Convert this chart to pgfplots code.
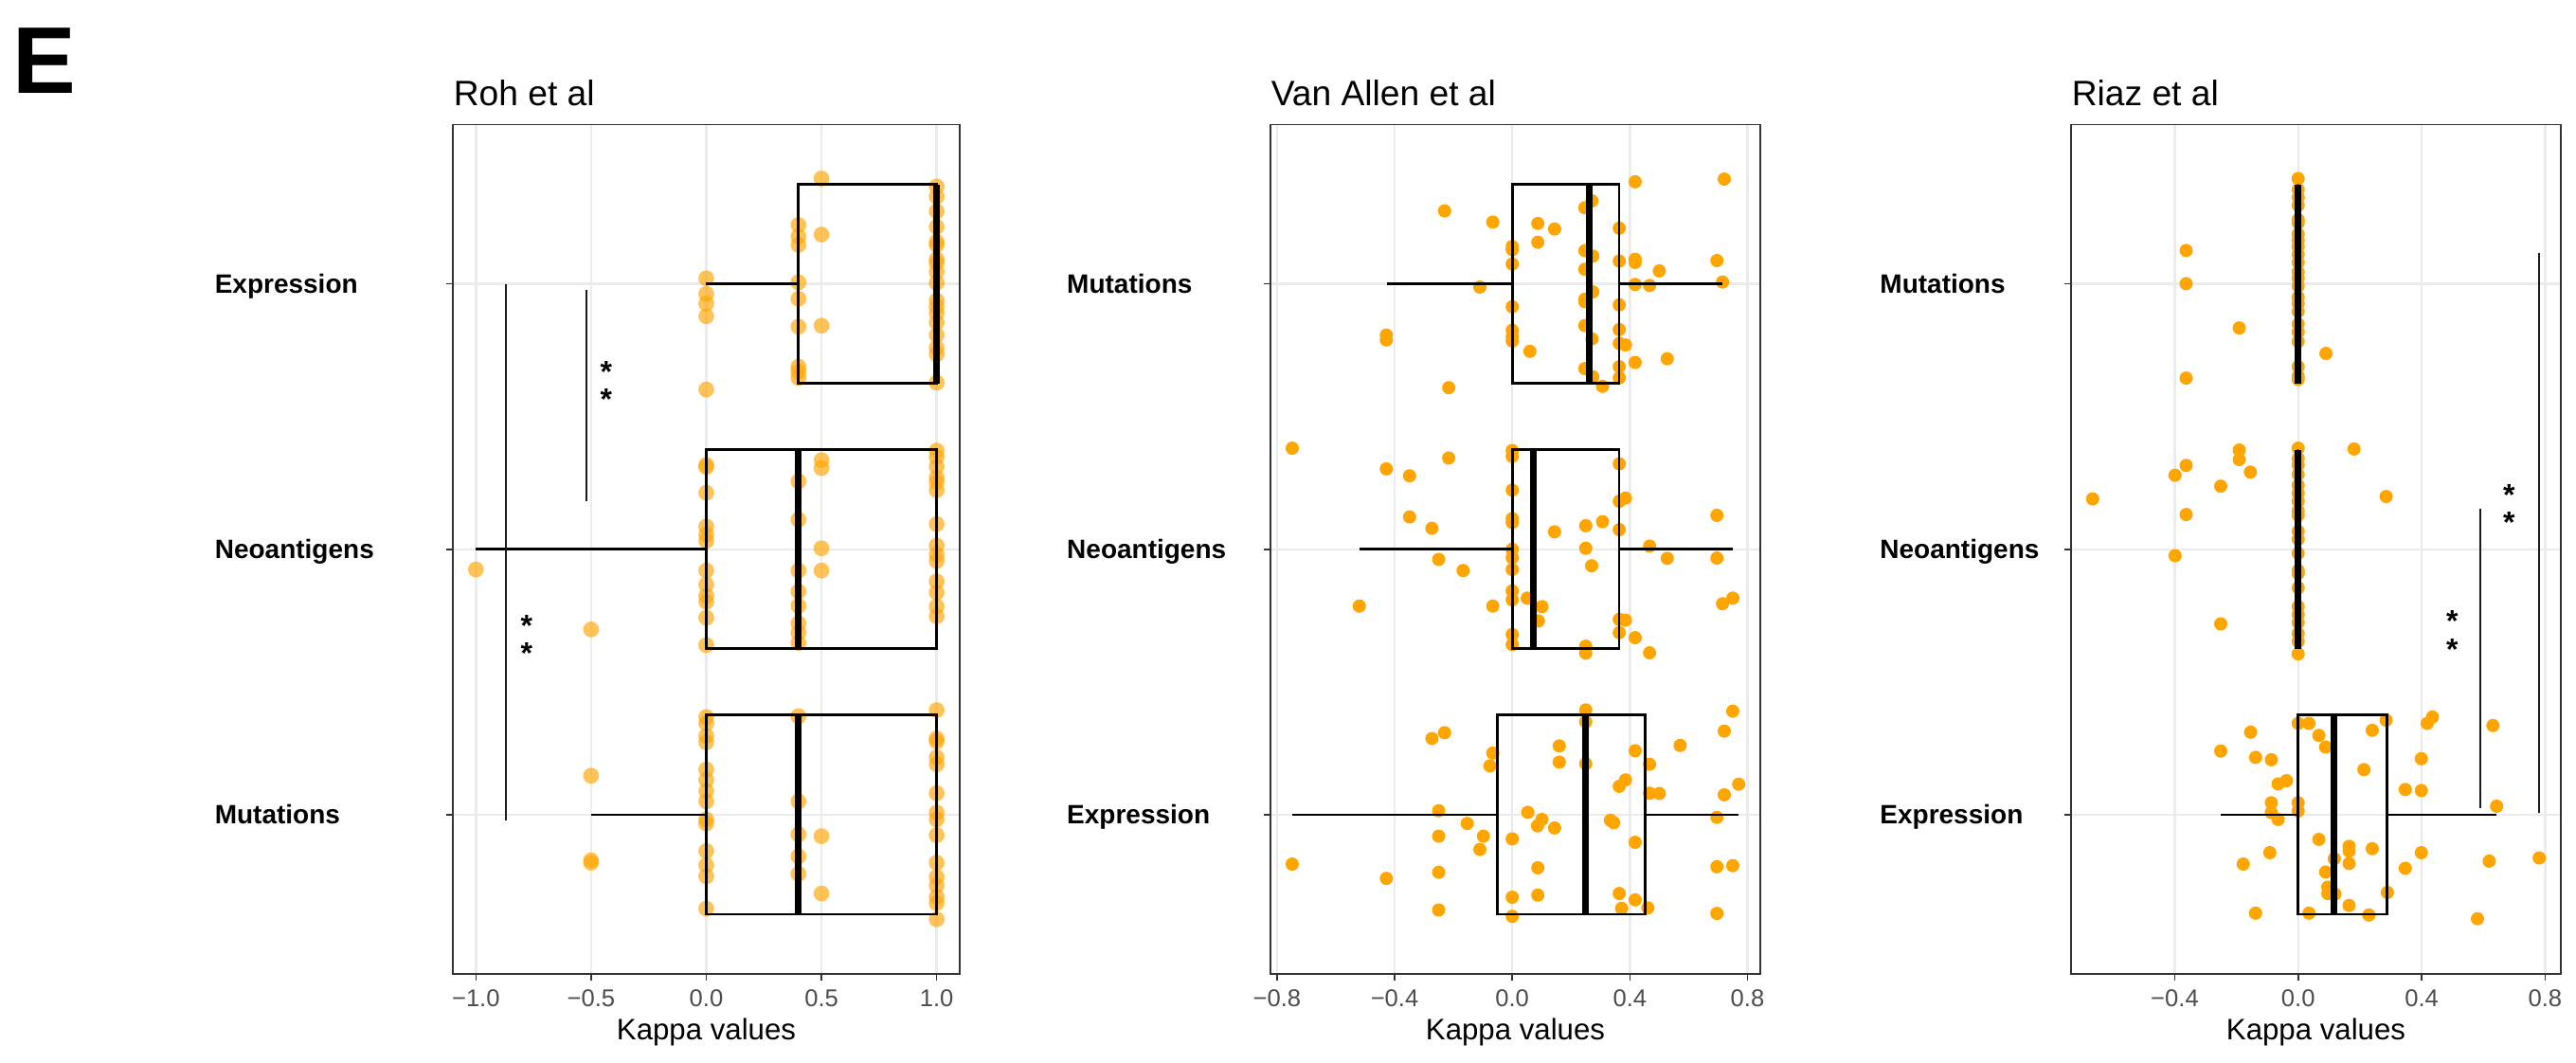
\documentclass[border=0pt]{standalone}
\usepackage{fontspec}
\setmainfont{Liberation Sans}
\usepackage{pgfplots}
\pgfplotsset{compat=1.18}
\usepgfplotslibrary{statistics}
\definecolor{ptorange}{HTML}{FFA500}
\definecolor{gridgray}{HTML}{EBEBEB}
\definecolor{framegray}{HTML}{333333}
\definecolor{ticktext}{HTML}{4D4D4D}

\pgfplotsset{
  kappapanel/.style={
    clip marker paths=true,
    scale only axis,
    anchor=north west,
    width=129.25pt, height=224.1pt,
    ymin=0.4, ymax=3.6,
    ytick={1,2,3},
    tick align=outside,
    tick pos=left,
    major tick length=1.8pt,
    tick style={framegray, line width=0.4pt},
    axis line style={framegray, line width=0.4pt},
    xmajorgrids, ymajorgrids,
    grid style={gridgray, line width=0.6pt},
    xlabel={Kappa values},
    x label style={at={(axis description cs:0.5,0)}, anchor=base, yshift=-17.5pt,
      font=\fontsize{7.8}{9}\selectfont},
    xticklabel style={font=\fontsize{6.4}{7.5}\selectfont, text=ticktext,
      anchor=north, inner sep=0pt, yshift=-2.1pt},
    yticklabel style={font=\fontsize{7}{8}\selectfont\bfseries,
      anchor=base west, inner sep=0pt, yshift=-2.5pt},
    every axis title shift=0pt,
    title style={font=\fontsize{9.3}{11}\selectfont, at={(axis description cs:0,1)},
      anchor=base west, inner sep=0pt, yshift=5pt},
    boxplot/box extend=0.75,
    boxplot/whisker extend=0,
    boxplot/every median/.style={line width=1.75pt},
  },
  roh/.style={only marks, mark=*, mark size=2.1pt,
    mark options={fill=ptorange, draw=ptorange, draw opacity=0, fill opacity=0.65}},
  solidpts/.style={only marks, mark=*, mark size=1.75pt,
    mark options={fill=ptorange, draw=ptorange, draw opacity=0}},
  boxline/.style={black, line width=0.7pt, solid},
  sigline/.style={black!90, line width=0.5pt},
}
\newcommand{\stars}[2]{%
  \node[font=\fontsize{8}{8}\selectfont\bfseries, inner sep=0pt, yshift=-1.8pt] at (axis cs:#1,#2) {*};}

\begin{document}
\begin{tikzpicture}
\path[use as bounding box] (0pt,0pt) rectangle (679.75pt,-280.5pt);
\node[anchor=base west, inner sep=0pt, font=\fontsize{25}{25}\selectfont\bfseries] at (3.2pt,-24.75pt) {E};

% ---------------- Roh et al ----------------
\begin{axis}[kappapanel, at={(119.5pt,-32.9pt)}, width=133.75pt,
  xmin=-1.1, xmax=1.1,
  xtick={-1,-0.5,0,0.5,1},
  xticklabels={−1.0,−0.5,0.0,0.5,1.0},
  yticklabels={Mutations,Neoantigens,Expression},
  yticklabel style={xshift=-61.2pt},
  title={Roh et al}]
% Expression
\addplot[roh] table[row sep=\\] {x y\\
0.5 3.397\\ 0.5 3.186\\ 0.5 2.843\\
0.4 3.222\\ 0.4 3.179\\ 0.4 3.147\\ 0.4 3.006\\ 0.4 2.944\\ 0.4 2.839\\ 0.4 2.688\\ 0.4 2.670\\ 0.4 2.646\\
0 3.021\\ 0 2.962\\ 0 2.926\\ 0 2.878\\ 0 2.602\\
1 3.367\\ 1 3.329\\ 1 3.274\\ 1 3.215\\ 1 3.159\\ 1 3.147\\ 1 3.093\\ 1 3.079\\ 1 3.045\\
1 3.004\\ 1 2.938\\ 1 2.914\\ 1 2.890\\ 1 2.855\\ 1 2.807\\ 1 2.759\\ 1 2.735\\ 1 2.628\\
};
% Neoantigens
\addplot[roh] table[row sep=\\] {x y\\
-1 1.924\\ -0.5 1.698\\
0 2.318\\ 0 2.310\\ 0 2.213\\ 0 2.086\\ 0 2.056\\ 0 2.032\\ 0 1.920\\ 0 1.867\\ 0 1.825\\ 0 1.802\\ 0 1.742\\ 0 1.639\\
0.4 2.256\\ 0.4 2.112\\ 0.4 1.920\\ 0.4 1.841\\ 0.4 1.787\\ 0.4 1.721\\ 0.4 1.686\\ 0.4 1.647\\
0.5 2.336\\ 0.5 2.306\\ 0.5 2.004\\ 0.5 1.920\\
1 2.372\\ 1 2.348\\ 1 2.312\\ 1 2.271\\ 1 2.253\\ 1 2.223\\ 1 2.095\\ 1 2.014\\ 1 1.980\\ 1 1.956\\
1 1.879\\ 1 1.837\\ 1 1.784\\ 1 1.748\\
};
% Mutations
\addplot[roh] table[row sep=\\] {x y\\
-0.5 1.147\\ -0.5 0.828\\ -0.5 0.819\\
0 1.368\\ 0 1.344\\ 0 1.297\\ 0 1.273\\ 0 1.170\\ 0 1.131\\ 0 1.089\\ 0 1.050\\ 0 0.982\\ 0 0.967\\
0 0.863\\ 0 0.810\\ 0 0.768\\ 0 0.646\\
0.4 1.371\\ 0.4 1.050\\ 0.4 0.926\\ 0.4 0.843\\ 0.4 0.777\\
0.5 0.919\\ 0.5 0.703\\
1 1.394\\ 1 1.287\\ 1 1.276\\ 1 1.216\\ 1 1.190\\ 1 1.081\\ 1 1.008\\ 1 0.982\\ 1 0.923\\ 1 0.819\\
1 0.765\\ 1 0.733\\ 1 0.691\\ 1 0.667\\ 1 0.606\\
};
\addplot[boxline, boxplot prepared={draw position=3, lower whisker=0, lower quartile=0.4,
  median=1, upper quartile=1, upper whisker=1}] coordinates {};
\addplot[boxline, boxplot prepared={draw position=2, lower whisker=-1, lower quartile=0,
  median=0.4, upper quartile=1, upper whisker=1}] coordinates {};
\addplot[boxline, boxplot prepared={draw position=1, lower whisker=-0.5, lower quartile=0,
  median=0.4, upper quartile=1, upper whisker=1}] coordinates {};
\addplot[sigline] coordinates {(-0.870,0.979) (-0.870,3.0)};
\addplot[sigline] coordinates {(-0.522,2.181) (-0.522,2.976)};
\stars{-0.434}{2.694}\stars{-0.434}{2.592}
\stars{-0.780}{1.739}\stars{-0.780}{1.635}
\end{axis}

% ---------------- Van Allen et al ----------------
\begin{axis}[kappapanel, at={(335.25pt,-32.9pt)},
  xmin=-0.822, xmax=0.8435,
  xtick={-0.8,-0.4,0,0.4,0.8},
  xticklabels={−0.8,−0.4,0.0,0.4,0.8},
  yticklabels={Expression,Neoantigens,Mutations},
  yticklabel style={xshift=-52.1pt},
  title={Van Allen et al}]
% Mutations
\addplot[solidpts] table[row sep=\\] {x y\\
0.418 3.385\\ 0.721 3.395\\ -0.230 3.275\\ -0.066 3.233\\ 0.087 3.228\\ 0.144 3.207\\ 0.364 3.210\\
0.087 3.157\\ 0 3.141\\ 0 3.129\\ 0 3.075\\ 0.247 3.287\\ 0.271 3.313\\ 0.247 3.125\\ 0.274 3.105\\
0.247 3.055\\ 0.364 3.086\\ 0.418 3.093\\ 0.418 3.081\\ 0.500 3.049\\ 0.696 3.088\\ 0.715 3.007\\
-0.110 2.988\\ 0.418 2.998\\ 0.467 2.994\\ 0.274 2.970\\ 0.247 2.942\\ 0.247 2.933\\ 0 2.914\\
0.364 2.921\\ 0.247 2.843\\ 0 2.825\\ 0 2.801\\ 0 2.785\\ 0.271 2.793\\ 0.364 2.828\\ 0.364 2.776\\
0.385 2.770\\ 0.060 2.746\\ 0.418 2.704\\ 0.527 2.718\\ 0.247 2.681\\ 0.274 2.650\\ 0.364 2.688\\
0.364 2.646\\ 0.307 2.614\\ -0.428 2.807\\ -0.428 2.789\\ -0.216 2.609\\
};
% Neoantigens
\addplot[solidpts] table[row sep=\\] {x y\\
-0.748 2.381\\ 0 2.372\\ 0 2.350\\ -0.216 2.344\\ -0.428 2.303\\ -0.349 2.277\\ 0.364 2.322\\
0 2.223\\ 0.385 2.193\\ 0.364 2.181\\ -0.349 2.122\\ -0.273 2.079\\ 0 2.116\\ 0 2.101\\ 0.144 2.066\\
0.250 2.089\\ 0.307 2.104\\ 0.364 2.074\\ 0.696 2.128\\
0 2.0\\ 0.250 2.004\\ 0.467 2.012\\ -0.250 1.962\\ -0.167 1.920\\ 0 1.968\\ 0 1.924\\ 0.270 1.938\\
0.527 1.966\\ 0.696 1.967\\ -0.520 1.786\\ -0.066 1.786\\ 0 1.843\\ 0 1.810\\ 0.051 1.816\\
0.101 1.784\\ 0.089 1.730\\ 0.750 1.816\\ 0.715 1.795\\ 0.364 1.736\\ 0.385 1.733\\ 0.364 1.686\\
0.418 1.667\\ 0 1.679\\ 0 1.641\\ 0.250 1.635\\ 0.250 1.609\\ 0.467 1.610\\
};
% Expression
\addplot[solidpts] table[row sep=\\] {x y\\
0.250 1.395\\ 0.750 1.390\\ -0.230 1.309\\ -0.273 1.287\\ 0.721 1.315\\ 0.160 1.259\\ 0.571 1.261\\
0.418 1.241\\ -0.066 1.232\\ -0.076 1.184\\ 0.160 1.198\\ 0.250 1.192\\ 0.250 1.350\\ 0.467 1.190\\
0.385 1.131\\ 0.364 1.107\\ 0.467 1.081\\ 0.500 1.080\\ 0.770 1.115\\ 0.721 1.075\\ -0.250 1.015\\
0.053 1.009\\ 0.101 0.982\\ 0.086 0.958\\ 0.144 0.950\\ -0.153 0.967\\ 0.334 0.979\\ 0.345 0.970\\
0.696 0.990\\ -0.250 0.919\\ -0.098 0.919\\ 0 0.909\\ 0.418 0.896\\ -0.110 0.869\\ -0.748 0.814\\
0.696 0.804\\ 0.750 0.808\\ 0.087 0.800\\ -0.428 0.760\\ -0.250 0.783\\ 0.087 0.697\\ 0 0.689\\
0.364 0.703\\ 0.418 0.679\\ 0.372 0.647\\ 0.461 0.649\\ -0.250 0.641\\ 0 0.617\\ 0.696 0.628\\
};
\addplot[boxline, boxplot prepared={draw position=3, lower whisker=-0.426, lower quartile=0,
  median=0.261, upper quartile=0.3635, upper whisker=0.715}] coordinates {};
\addplot[boxline, boxplot prepared={draw position=2, lower whisker=-0.520, lower quartile=0,
  median=0.0707, upper quartile=0.3635, upper whisker=0.750}] coordinates {};
\addplot[boxline, boxplot prepared={draw position=1, lower whisker=-0.748, lower quartile=-0.050,
  median=0.250, upper quartile=0.452, upper whisker=0.770}] coordinates {};
\end{axis}

% ---------------- Riaz et al ----------------
\begin{axis}[kappapanel, at={(546.5pt,-32.9pt)},
  xmin=-0.736, xmax=0.851,
  xtick={-0.4,0,0.4,0.8},
  xticklabels={−0.4,0.0,0.4,0.8},
  yticklabels={Expression,Neoantigens,Mutations},
  yticklabel style={xshift=-48.8pt},
  title={Riaz et al}]
% Mutations
\addplot[solidpts] table[row sep=\\] {x y\\
-0.363 3.126\\ -0.363 3.001\\ -0.191 2.834\\ 0.090 2.738\\ -0.363 2.645\\
0 3.397\\ 0 3.355\\ 0 3.325\\ 0 3.296\\ 0 3.242\\ 0 3.230\\ 0 3.188\\ 0 3.164\\ 0 3.141\\ 0 3.111\\
0 3.081\\ 0 3.045\\ 0 3.021\\ 0 2.992\\ 0 2.950\\ 0 2.926\\ 0 2.896\\ 0 2.849\\ 0 2.819\\ 0 2.783\\
0 2.688\\ 0 2.652\\ 0 2.640\\
};
% Neoantigens
\addplot[solidpts] table[row sep=\\] {x y\\
-0.191 2.374\\ -0.191 2.338\\ -0.363 2.316\\ -0.399 2.279\\ -0.155 2.291\\ -0.251 2.238\\
-0.666 2.190\\ 0.181 2.378\\ 0.285 2.199\\ -0.363 2.131\\ -0.399 1.976\\ -0.251 1.719\\
0 2.381\\ 0 2.342\\ 0 2.318\\ 0 2.282\\ 0 2.241\\ 0 2.211\\ 0 2.181\\ 0 2.145\\ 0 2.128\\ 0 2.068\\
0 2.038\\ 0 1.985\\ 0 1.920\\ 0 1.909\\ 0 1.855\\ 0 1.784\\ 0 1.754\\ 0 1.724\\ 0 1.683\\ 0 1.653\\
0 1.606\\
};
% Expression
\addplot[solidpts] table[row sep=\\] {x y\\
0 1.344\\ 0.035 1.344\\ -0.154 1.311\\ 0.067 1.299\\ 0.089 1.255\\ 0.240 1.318\\ 0.285 1.356\\
0.435 1.368\\ 0.418 1.344\\ 0.631 1.336\\ -0.251 1.240\\ -0.138 1.216\\ -0.087 1.207\\ 0.399 1.211\\
0.213 1.170\\ -0.038 1.128\\ -0.065 1.116\\ 0.347 1.095\\ 0.399 1.091\\ -0.087 1.045\\ 0 1.045\\
0 1.014\\ -0.087 1.008\\ -0.065 0.982\\ 0.643 1.032\\ 0.067 0.907\\ 0.165 0.881\\ 0.165 0.863\\
0.240 0.872\\ -0.092 0.857\\ 0.399 0.857\\ -0.178 0.814\\ 0.117 0.834\\ 0.165 0.816\\ 0.347 0.798\\
0.619 0.825\\ 0.781 0.837\\ 0.089 0.784\\ 0.096 0.727\\ 0.096 0.703\\ 0.119 0.701\\ 0.289 0.707\\
0.165 0.658\\ -0.138 0.629\\ 0.035 0.629\\ 0.229 0.622\\ 0.581 0.608\\
};
\addplot[boxline, boxplot prepared={draw position=3, lower whisker=0, lower quartile=0,
  median=0, upper quartile=0, upper whisker=0}] coordinates {};
\addplot[boxline, boxplot prepared={draw position=2, lower whisker=0, lower quartile=0,
  median=0, upper quartile=0, upper whisker=0}] coordinates {};
\addplot[boxline, boxplot prepared={draw position=1, lower whisker=-0.251, lower quartile=0,
  median=0.117, upper quartile=0.288, upper whisker=0.643}] coordinates {};
\addplot[sigline] coordinates {(0.589,1.024) (0.589,2.154)};
\addplot[sigline] coordinates {(0.779,1.006) (0.779,3.117)};
\stars{0.499}{1.754}\stars{0.499}{1.647}
\stars{0.683}{2.229}\stars{0.683}{2.128}
\end{axis}
\end{tikzpicture}
\end{document}
